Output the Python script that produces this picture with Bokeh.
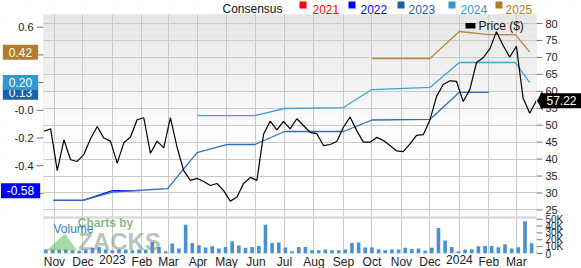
from datetime import datetime
import pandas as pd
from bokeh.plotting import figure
from bokeh.core.properties import value
from bokeh.models import (Range1d, FixedTicker, MonthsTicker, Label, PolyAnnotation,
                          BoxAnnotation, Grid)
from bokeh.embed import file_html
from bokeh.resources import INLINE

FONT = "Liberation Sans"

# ---------------- data ----------------
price_dates = pd.date_range("2022-10-21", periods=75, freq="7D")
price = [48.2, 48.9, 36.6, 45.7, 39.8, 39.3, 41.4, 46.0, 49.6, 46.2,
         45.3, 38.8, 44.8, 46.5, 51.6, 52.2, 41.7, 45.3, 43.3, 52.2,
         43.5, 36.6, 33.7, 34.3, 33.4, 32.2, 32.8, 30.7, 27.6, 28.8,
         32.8, 34.6, 33.7, 47.3, 51.2, 48.6, 51.1, 48.9, 51.9, 49.9,
         47.9, 47.5, 44.0, 44.3, 45.2, 49.4, 52.4, 48.4, 45.0, 45.0,
         46.4, 45.5, 44.0, 42.4, 42.2, 44.5, 47.0, 47.2, 51.5, 58.5,
         62.0, 63.1, 62.9, 57.0, 60.5, 68.5, 69.9, 72.5, 77.6, 73.5,
         70.1, 73.3, 58.0, 53.5, 57.22]
volume_k = [5.8, 5.8, 5.8, 5.8, 4.8, 3.9, 5.8, 8.2, 9.6, 5.8,
            4.8, 5.8, 5.8, 4.8, 5.8, 5.8, 16.9, 9.6, 3.4, 14.5,
            7.2, 42, 15.4, 12, 8.7, 10.6, 7.2, 9.6, 17.8, 11.6,
            8.2, 9.6, 11, 42, 15.4, 16, 8.7, 3.4, 9.6, 9.6,
            4.8, 4.8, 5.8, 4.8, 4.8, 5.8, 15.4, 16, 8.7, 9.2,
            6.3, 4.8, 5.8, 5.8, 8.2, 6.7, 7.2, 3.9, 8.2, 37,
            19, 9.6, 3.4, 5.8, 6.3, 10.6, 11, 11, 9.2, 13.5,
            7.2, 9.2, 47, 15, 5.8]

eps_2022_dates = ["2022-10-31", "2022-12-01", "2023-01-01", "2023-01-30"]
eps_2022 = [-0.65, -0.65, -0.58, -0.58]
eps_2023_dates = ["2022-10-31", "2022-12-01", "2023-01-01", "2023-02-28", "2023-03-31",
                  "2023-05-01", "2023-05-31", "2023-07-01", "2023-09-01", "2023-10-01",
                  "2023-12-01", "2024-01-01", "2024-02-01"]
eps_2023 = [-0.65, -0.65, -0.59, -0.565, -0.305, -0.247, -0.247, -0.153, -0.153,
            -0.07, -0.066, 0.13, 0.13]
eps_2024_dates = ["2023-03-31", "2023-05-31", "2023-07-01", "2023-09-01", "2023-10-01",
                  "2023-12-01", "2024-01-01", "2024-02-29", "2024-03-15"]
eps_2024 = [-0.038, -0.038, 0.013, 0.02, 0.15, 0.165, 0.345, 0.345, 0.20]
eps_2025_dates = ["2023-10-01", "2023-12-01", "2024-01-01", "2024-02-01", "2024-02-29", "2024-03-15"]
eps_2025 = [0.374, 0.374, 0.569, 0.547, 0.547, 0.42]

legend_years = ["2021", "2022", "2023", "2024", "2025"]
price_ticks = [25, 30, 35, 40, 45, 50, 55, 60, 65, 70, 75, 80]
eps_ticks = [0.6, 0.4, 0.2, 0.0, -0.2, -0.4, -0.6]
eps_tick_labels = ["0.6", "0.4", "0.2", "-0.0", "-0.2", "-0.4", "-0.6"]
vol_ticks = [0, 10000, 20000, 30000, 40000, 50000]
vol_tick_labels = ["0", "10K", "20K", "30K", "40K", "50K"]
month_ticks = pd.date_range("2022-11-01", "2024-03-01", freq="MS")
month_labels = [str(d.year) if d.month == 1 else d.strftime("%b") for d in month_ticks]

# ---------------- styles / geometry ----------------
C = {"2021": "#ff0000", "2022": "#0000ff", "2023": "#1c5fad", "2024": "#3399cc", "2025": "#b07d2c"}
LINE_C = {"2022": "#1010e8", "2023": "#2c6dc0", "2024": "#40a3d6", "2025": "#b8863e"}
GRID = "#c9c9c9"
TICK = "#777777"
DAY_MS = 86400000
W, H = 581, 268
BOX_L, BOX_R, BOX_T, BOX_B = 43, 536, 14, 253        # plot box in pixels

X0 = datetime(2022, 10, 20, 12)      # date at left edge of plot box
X1 = datetime(2024, 3, 22, 3)        # date at right edge of plot box
DPP = (X1 - X0) / (BOX_R - BOX_L)    # time per pixel

P_PPU = 3.3898                       # price scale: 80 at y=23
P_AT = lambda y: 80 - (y - 23) / P_PPU
E_PPU = 138.5                        # eps scale: 0.6 at y=26.7
E_AT = lambda y: 0.6 - (y - 26.7) / E_PPU
V_PPU = 34.3 / 50000                 # volume scale: 0 at y=253
V_AT = lambda y: (BOX_B - y) / V_PPU

# one frame spanning the whole canvas; scales are laid out in it
p = figure(width=W, height=H,
           x_range=Range1d(start=X0 - BOX_L * DPP, end=X1 + (W - BOX_R) * DPP),
           y_range=Range1d(P_AT(H), P_AT(0)),
           x_axis_type="datetime", x_axis_location=None, y_axis_location=None,
           toolbar_location=None, output_backend="svg",
           min_border_left=0, min_border_right=0, min_border_top=0, min_border_bottom=0)
p.extra_y_ranges = {"eps": Range1d(E_AT(H), E_AT(0)), "vol": Range1d(V_AT(H), V_AT(0))}
p.outline_line_color = None
p.background_fill_color = None
p.border_fill_color = "white"

if len(p.xgrid) == 0:
    p.add_layout(Grid(dimension=0))
if len(p.ygrid) == 0:
    p.add_layout(Grid(dimension=1))
p.xgrid.ticker = MonthsTicker(months=list(range(12)))
p.xgrid.grid_line_color = GRID
p.ygrid.ticker = FixedTicker(ticks=price_ticks)
p.ygrid.grid_line_color = GRID

# soft vertical gradient at the top of the price panel
n_bands = 22
g_top, g_bot = P_AT(BOX_T), P_AT(145)
bl, br, bt, bb, bc = [], [], [], [], []
for k in range(n_bands):
    bt.append(g_top - (g_top - g_bot) * k / n_bands)
    bb.append(g_top - (g_top - g_bot) * (k + 1) / n_bands)
    g = int(round(229 + (255 - 229) * (k + 0.5) / n_bands))
    bc.append("#%02x%02x%02x" % (g, g, g))
    bl.append(X0)
    br.append(X1)
p.quad(left=bl, right=br, top=bt, bottom=bb, fill_color=bc, line_color=None, level="image")

# white masks outside the plot box
p.add_layout(BoxAnnotation(right=X0, fill_color="white", fill_alpha=1, line_color=None, level="glyph"))
p.add_layout(BoxAnnotation(left=X1, fill_color="white", fill_alpha=1, line_color=None, level="glyph"))
p.add_layout(BoxAnnotation(bottom=P_AT(BOX_T), fill_color="white", fill_alpha=1, line_color=None, level="glyph"))
p.add_layout(BoxAnnotation(top=P_AT(BOX_B), fill_color="white", fill_alpha=1, line_color=None, level="glyph"))
# plot box border and the band between price and volume panels
p.add_layout(BoxAnnotation(left=X0, right=X1, top=P_AT(BOX_T), bottom=P_AT(BOX_B),
                           fill_alpha=0, line_color=GRID, line_width=1, level="guide"))
p.add_layout(BoxAnnotation(left=X0, right=X1, top=P_AT(215.8), bottom=P_AT(218.2),
                           fill_color="#dadada", fill_alpha=1, line_color=None, level="guide"))

# ---- consensus EPS lines and price line ----
for yr, d, v in [("2022", eps_2022_dates, eps_2022), ("2023", eps_2023_dates, eps_2023),
                 ("2024", eps_2024_dates, eps_2024), ("2025", eps_2025_dates, eps_2025)]:
    p.line(pd.to_datetime(d), v, y_range_name="eps", line_color=LINE_C[yr], line_width=1.3)
p.line(price_dates, price, line_color="black", line_width=1.2)

# ---- volume bars ----
vol = [v * 1000 for v in volume_k]
p.vbar(x=price_dates + pd.Timedelta(days=2), top=vol, bottom=0, width=3.8 * DAY_MS,
       y_range_name="vol", fill_color="#4b91cf", line_color=None)

# ---- scales: left EPS ----
n_e = len(eps_ticks)
p.segment(x0=[X0 - 7 * DPP] * n_e, x1=[X0] * n_e, y0=eps_ticks, y1=eps_ticks,
          y_range_name="eps", line_color=TICK, line_width=1, level="guide")
p.text(x=[X0 - 10 * DPP] * n_e, y=eps_ticks, text=eps_tick_labels, y_range_name="eps",
       text_align="right", text_baseline="middle", text_font=value(FONT),
       text_font_size="11px", text_color="#222222", level="guide")

# ---- scales: right price ----
n_p = len(price_ticks)
p.segment(x0=[X1] * n_p, x1=[X1 + 6 * DPP] * n_p, y0=price_ticks, y1=price_ticks,
          line_color=TICK, line_width=1, level="guide")
p.text(x=[X1 + 9 * DPP] * n_p, y=price_ticks, text=[str(t) for t in price_ticks],
       text_align="left", text_baseline="middle", text_font=value(FONT),
       text_font_size="11px", text_color="#222222", level="guide")

# ---- scales: right volume ----
n_v = len(vol_ticks)
p.segment(x0=[X1] * n_v, x1=[X1 + 6 * DPP] * n_v, y0=vol_ticks, y1=vol_ticks,
          y_range_name="vol", line_color=TICK, line_width=1, level="guide")
p.text(x=[X1 + 9 * DPP] * n_v, y=vol_ticks, text=vol_tick_labels, y_range_name="vol",
       text_align="left", text_baseline="middle", text_font=value(FONT),
       text_font_size="10px", text_color="#222222", level="guide")

# ---- scales: bottom months ----
p.text(x=list(month_ticks), y=[0] * len(month_ticks), text=month_labels, y_range_name="vol",
       y_offset=1, text_align="center", text_baseline="top", text_font=value(FONT),
       text_font_size="12px", text_color="#222222", level="guide")

# ---- value tags on the left (last consensus values) ----
hh = 10 / E_PPU
for yr, v in [("2025", eps_2025), ("2023", eps_2023), ("2024", eps_2024), ("2022", eps_2022)]:
    last = v[-1]
    p.add_layout(Label(x=20, y=last, x_units="canvas", y_units="data", y_range_name="eps",
                       text=f"{last:.2f}", text_align="center", text_baseline="middle",
                       text_color="white", text_font=FONT, text_font_size="12px",
                       background_fill_color=C[yr], padding=(6, 3)))
    p.add_layout(PolyAnnotation(xs=[38, 43.5, 38], ys=[last + hh, last, last - hh],
                                xs_units="canvas", ys_units="data", y_range_name="eps",
                                fill_color=C[yr], fill_alpha=1.0, line_color=None))

# ---- price tag on the right ----
ph = 10 / P_PPU
lastp = price[-1]
p.add_layout(Label(x=561, y=lastp, x_units="canvas", y_units="data",
                   text=f"{lastp:.2f}", text_align="center", text_baseline="middle",
                   text_color="white", text_font=FONT, text_font_size="12px",
                   background_fill_color="black", padding=(6, 3)))
p.add_layout(PolyAnnotation(xs=[542, 536.5, 542], ys=[lastp + ph, lastp, lastp - ph],
                            xs_units="canvas", ys_units="data",
                            fill_color="black", fill_alpha=1.0, line_color=None))

# ---- legend row ----
p.add_layout(Label(x=222, y=8.6, x_units="canvas", y_units="canvas", text="Consensus",
                   text_align="left", text_baseline="alphabetic", text_color="#111111",
                   text_font=FONT, text_font_size="12px"))
sq_x = [299, 348, 397, 448, 495]
tx_x = [312, 360, 408, 460, 505]
for yr, sx, tx in zip(legend_years, sq_x, tx_x):
    p.add_layout(PolyAnnotation(xs=[sx, sx + 7, sx + 7, sx], ys=[1, 1, 8, 8],
                                xs_units="canvas", ys_units="canvas",
                                fill_color=C[yr], fill_alpha=1.0, line_color=None))
    p.add_layout(Label(x=tx, y=8.6, x_units="canvas", y_units="canvas", text=yr,
                       text_align="left", text_baseline="alphabetic", text_color=C[yr],
                       text_font=FONT, text_font_size="12px"))

p.add_layout(PolyAnnotation(xs=[465, 475, 475, 465], ys=[22.5, 22.5, 28, 28],
                            xs_units="canvas", ys_units="canvas",
                            fill_color="black", fill_alpha=1.0, line_color=None))
p.add_layout(Label(x=478, y=25.5, x_units="canvas", y_units="canvas", text="Price ($)",
                   text_align="left", text_baseline="middle", text_color="#111111",
                   text_font=FONT, text_font_size="12px"))

# ---- volume title and watermark ----
p.add_layout(PolyAnnotation(xs=[46, 64.5, 76.5], ys=[250, 233, 250], xs_units="canvas", ys_units="canvas",
                            fill_color="#3fae3f", fill_alpha=0.45, line_color=None))
p.add_layout(Label(x=105, y=222.5, x_units="canvas", y_units="canvas", text="Charts by",
                   text_align="center", text_baseline="middle", text_color="#4c9a4c",
                   text_alpha=0.7, text_font=FONT, text_font_size="12px", text_font_style="bold"))
p.add_layout(Label(x=119, y=241, x_units="canvas", y_units="canvas", text="ZACKS",
                   text_align="center", text_baseline="middle", text_color="#6f8a6f",
                   text_alpha=0.5, text_font=FONT, text_font_size="24px", text_font_style="bold"))
p.add_layout(Label(x=53, y=228, x_units="canvas", y_units="canvas", text="Volume",
                   text_align="left", text_baseline="middle", text_color="#2f7fc1",
                   text_font=FONT, text_font_size="12px"))

open("out.html", "w").write(file_html(p, INLINE))
